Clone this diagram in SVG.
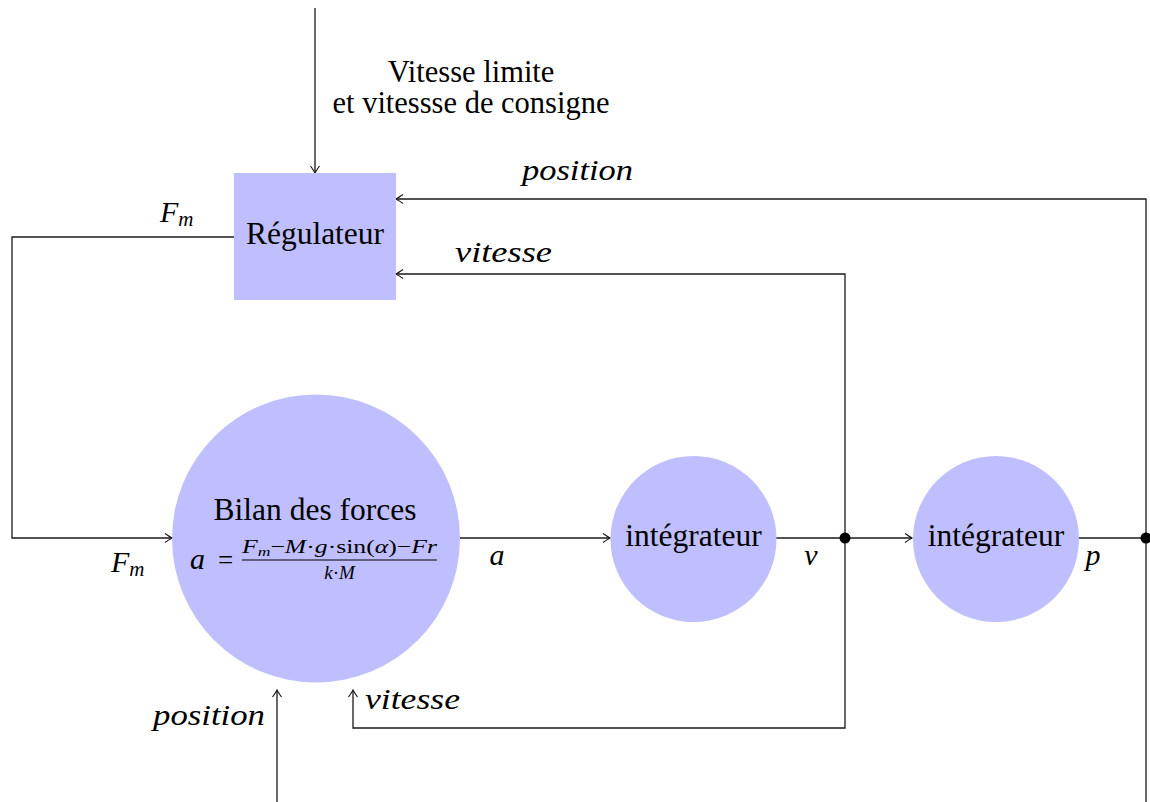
<svg xmlns="http://www.w3.org/2000/svg" width="1150" height="802" viewBox="0 0 1150 802">
<defs>
<style>
.node{fill:#bfbfff;stroke:none}
.wire{fill:none;stroke:#1a1a1a;stroke-width:1.3}
.arr{marker-end:url(#to)}
.t{font-family:"Liberation Serif",serif;font-size:31.5px;fill:#000}
.m{font-family:"Liberation Serif",serif;font-style:italic;font-size:30px;fill:#000}
.f{font-family:"Liberation Serif",serif;font-style:italic;font-size:19px;fill:#000}
.up{font-style:normal}
.dot{fill:#000}
</style>
<marker id="to" markerUnits="userSpaceOnUse" viewBox="-10 -6 12 12" refX="0" refY="0" markerWidth="12" markerHeight="12" orient="auto">
<path d="M -7 -4.5 Q -2 -1 0 0 Q -2 1 -7 4.5" fill="none" stroke="#1a1a1a" stroke-width="1.2"/>
</marker>
</defs>
<rect width="1150" height="802" fill="#fff"/>

<g id="connectors">
<path class="wire arr" d="M315 8 V173"/>
<path class="wire arr" d="M1146 538 V199 H396"/>
<path class="wire arr" d="M845 538 V274 H396"/>
<path class="wire arr" d="M234 237 H12 V538 H172"/>
<path class="wire arr" d="M460 538 H610"/>
<path class="wire" d="M776 538 H845"/>
<path class="wire arr" d="M845 538 H912"/>
<path class="wire" d="M1079 538 H1146"/>
<path class="wire" d="M1146 538 V802"/>
<path class="wire arr" d="M845 538 V728 H353 V690"/>
<path class="wire arr" d="M277 802 V690"/>
<circle class="dot" cx="845" cy="538" r="5.5"/>
<circle class="dot" cx="1146" cy="538" r="5.5"/>
</g>

<g id="labels">
<text class="t" x="471" y="82" text-anchor="middle" style="font-size:30.5px">Vitesse limite</text>
<text class="t" x="471" y="113" text-anchor="middle" style="font-size:30.5px">et vitessse de consigne</text>
<text class="m" x="522" y="180" textLength="111" lengthAdjust="spacingAndGlyphs">position</text>
<text class="m" x="455" y="262" textLength="97" lengthAdjust="spacingAndGlyphs">vitesse</text>
<text class="m" x="160" y="222">F<tspan style="font-size:21px" dy="4">m</tspan></text>
<text class="m" x="111" y="572">F<tspan style="font-size:21px" dy="4">m</tspan></text>
<text class="m" x="497" y="565" text-anchor="middle">a</text>
<text class="m" x="811" y="565" text-anchor="middle">v</text>
<text class="m" x="1093" y="565" text-anchor="middle">p</text>
<text class="m" x="153" y="725" textLength="112" lengthAdjust="spacingAndGlyphs">position</text>
<text class="m" x="365" y="709" textLength="95" lengthAdjust="spacingAndGlyphs">vitesse</text>
</g>

<g id="regulateur">
<rect class="node" x="234" y="173" width="162" height="127"/>
<text class="t" x="315" y="244" text-anchor="middle">Régulateur</text>
</g>

<g id="bilan">
<circle class="node" cx="316" cy="538.5" r="144"/>
<text class="t" x="315" y="520" text-anchor="middle">Bilan des forces</text>
<text class="m" x="190" y="569">a</text>
<text class="t" x="218" y="569" style="font-size:27px">=</text>
<text class="f" x="242" y="553" textLength="195" lengthAdjust="spacingAndGlyphs">F<tspan style="font-size:13px" dy="3">m</tspan><tspan class="up" dy="-3">−</tspan>M<tspan class="up">·</tspan>g<tspan class="up">·sin(</tspan>α<tspan class="up">)−</tspan>Fr</text>
<line x1="242" y1="560" x2="437" y2="560" stroke="#000" stroke-width="1.2"/>
<text class="f" x="339.5" y="579" text-anchor="middle">k<tspan class="up">·</tspan>M</text>
</g>

<g id="integrateur1">
<circle class="node" cx="693.5" cy="539" r="83"/>
<text class="t" x="693.5" y="546" text-anchor="middle">intégrateur</text>
</g>

<g id="integrateur2">
<circle class="node" cx="996" cy="539" r="83"/>
<text class="t" x="996" y="546" text-anchor="middle">intégrateur</text>
</g>
</svg>
